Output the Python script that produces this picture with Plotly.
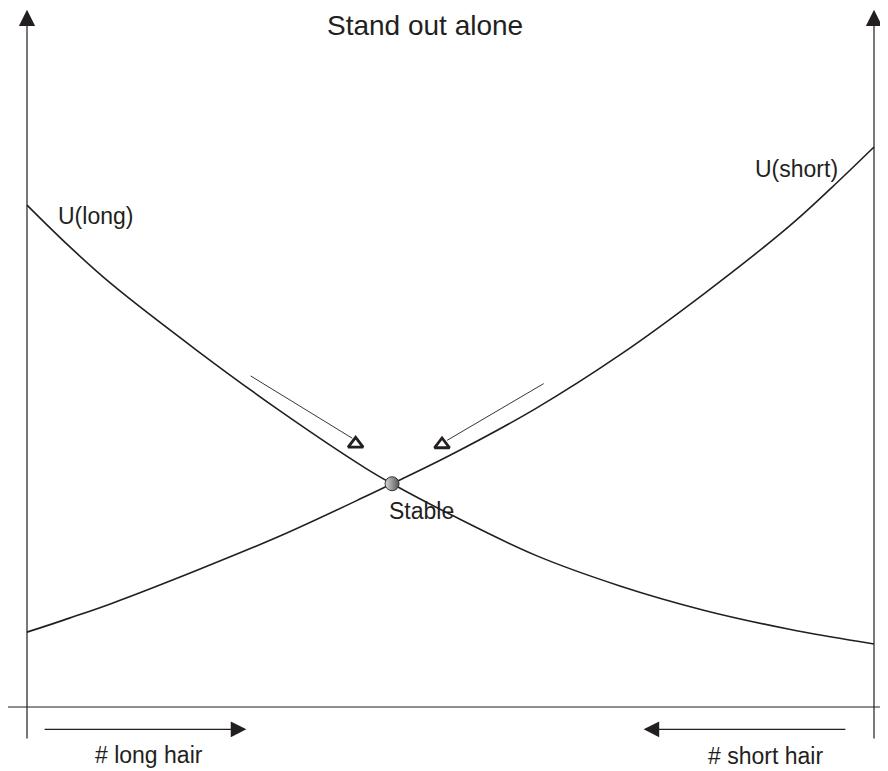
import plotly.graph_objects as go

# share of the population along the horizontal axis (0 = left axis, 1 = right axis)
share = [0.0, 0.05, 0.1, 0.2, 0.3, 0.4, 0.431, 0.5, 0.6, 0.7, 0.8, 0.9, 0.95, 1.0]
# utility curves
u_long = [7.17, 6.58, 6.04, 5.10, 4.22, 3.41, 3.19, 2.75, 2.17, 1.73, 1.38, 1.11, 1.00, 0.90]
u_short = [1.07, 1.27, 1.48, 1.95, 2.45, 3.01, 3.19, 3.60, 4.26, 5.03, 5.91, 6.87, 7.42, 8.00]

stable_x = [0.431]
stable_y = [3.19]

# adjustment arrows (start, end) and their open triangle heads
adj_left_x = [0.264, 0.384]
adj_left_y = [4.73, 3.84]
adj_right_x = [0.610, 0.496]
adj_right_y = [4.62, 3.81]
head_x = [0.388, 0.490]
head_y = [3.76, 3.75]

labels = {
    "title": "Stand out alone",
    "long": "U(long)",
    "short": "U(short)",
    "stable": "Stable",
    "nlong": "# long hair",
    "nshort": "# short hair",
}

INK = "#231f20"
FONT = "Liberation Sans, Arial, sans-serif"

fig = go.Figure()

fig.add_trace(go.Scatter(x=share, y=u_long, mode="lines",
                         line=dict(color=INK, width=1.6, shape="spline", smoothing=1.0),
                         hoverinfo="skip"))
fig.add_trace(go.Scatter(x=share, y=u_short, mode="lines",
                         line=dict(color=INK, width=1.6, shape="spline", smoothing=1.0),
                         hoverinfo="skip"))

# thin adjustment arrows
fig.add_trace(go.Scatter(x=adj_left_x, y=adj_left_y, mode="lines",
                         line=dict(color=INK, width=0.9), hoverinfo="skip"))
fig.add_trace(go.Scatter(x=adj_right_x, y=adj_right_y, mode="lines",
                         line=dict(color=INK, width=0.9), hoverinfo="skip"))
fig.add_trace(go.Scatter(x=head_x, y=head_y, mode="markers",
                         marker=dict(symbol="triangle-up-open", size=13, color=INK,
                                     line=dict(width=2.8, color=INK)),
                         hoverinfo="skip"))

# stable equilibrium
fig.add_trace(go.Scatter(x=stable_x, y=stable_y, mode="markers",
                         marker=dict(symbol="circle", size=14, color="#d8d8d8",
                                     gradient=dict(type="horizontal", color="#555555"),
                                     line=dict(width=1, color="#333333")),
                         hoverinfo="skip"))

# axes drawn as arrows
def arrow(x0, y0, x1, y1, width=1.2, size=2.2):
    fig.add_annotation(x=x1, y=y1, ax=x0, ay=y0, xref="x", yref="y", axref="x", ayref="y",
                       text="", showarrow=True, arrowhead=2, arrowwidth=width,
                       arrowsize=size, arrowcolor=INK)

arrow(0.0, -0.47, 0.0, 9.96, width=1.2, size=2.7)
arrow(1.0, -0.47, 1.0, 9.96, width=1.2, size=2.7)
arrow(0.019, -0.319, 0.259, -0.319, width=1.3, size=2.4)
arrow(0.968, -0.319, 0.728, -0.319, width=1.3, size=2.4)

fig.add_shape(type="line", x0=-0.024, x1=1.007, y0=0, y1=0, xref="x", yref="y",
              line=dict(color=INK, width=1.1))

def label(txt, x, y, anchor="left", size=23):
    fig.add_annotation(x=x, y=y, xref="x", yref="y", text=txt, showarrow=False,
                       xanchor=anchor, yanchor="middle",
                       font=dict(family=FONT, size=size, color=INK))

label(labels["title"], 0.47, 9.74, anchor="center", size=28)
label(labels["long"], 0.034, 7.01)
label(labels["short"], 0.857, 7.68)
label(labels["stable"], 0.425, 2.80)
label(labels["nlong"], 0.078, -0.69)
label(labels["nshort"], 0.802, -0.70)

fig.update_layout(
    width=880, height=763,
    margin=dict(l=0, r=0, t=0, b=0),
    paper_bgcolor="white", plot_bgcolor="white",
    showlegend=False,
    xaxis=dict(range=[-0.02243, 1.01653], visible=False, fixedrange=True),
    yaxis=dict(range=[-0.914, 9.986], visible=False, fixedrange=True),
)

fig.write_html("out.html", config={"displayModeBar": False})
